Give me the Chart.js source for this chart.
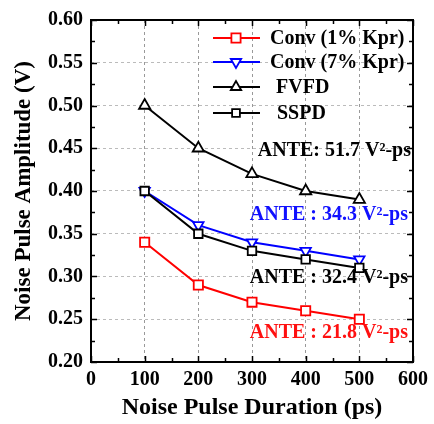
<!DOCTYPE html>
<html>
<head>
<meta charset="utf-8">
<script src="https://cdn.jsdelivr.net/npm/chart.js@4.4.0/dist/chart.umd.min.js"></script>
<style>
  html, body { margin: 0; padding: 0; background: #fff; }
</style>
</head>
<body>
<canvas id="grafico" width="434" height="424"></canvas>
<script>
// datos
const duraciones = [100, 200, 300, 400, 500];
const conv1 = [0.34, 0.29, 0.27, 0.26, 0.25];
const conv7 = [0.40, 0.36, 0.34, 0.33, 0.32];
const fvfd = [0.50, 0.45, 0.42, 0.40, 0.39];
const sspd = [0.40, 0.35, 0.33, 0.32, 0.31];
const etiquetas = ['Conv (1% Kpr)', 'Conv (7% Kpr)', 'FVFD', 'SSPD'];
const textosAnte = ['ANTE: 51.7 V²-ps', 'ANTE : 34.3 V²-ps', 'ANTE : 32.4 V²-ps', 'ANTE : 21.8 V²-ps'];

const FUENTE = "'Liberation Serif', 'Times New Roman', serif";

function serie(valores) {
    let puntos = [];
    for (let i = 0; i < duraciones.length; i++) {
        puntos.push({ x: duraciones[i], y: valores[i] });
    }
    return puntos;
}

function marcador(ctx, estilo, x, y, r, color) {
    ctx.save();
    ctx.fillStyle = '#fff';
    ctx.strokeStyle = color;
    ctx.lineWidth = 1.8;
    ctx.beginPath();
    if (estilo === 'rect') {
        const s = r * Math.SQRT1_2;
        ctx.rect(x - s, y - s, 2 * s, 2 * s);
    } else {
        const dir = estilo === 'down' ? -1 : 1;
        const h = r * 1.5;
        ctx.moveTo(x, y - dir * r);
        ctx.lineTo(x - r * 0.866, y + dir * r * 0.5);
        ctx.lineTo(x + r * 0.866, y + dir * r * 0.5);
        ctx.closePath();
    }
    ctx.fill();
    ctx.stroke();
    ctx.restore();
}

// marco, marcas hacia adentro, leyenda y textos ANTE
const extrasPlugin = {
    id: 'extras',
    afterDatasetsDraw(chart) {
        const { ctx, chartArea: a, scales: { x, y } } = chart;
        ctx.save();
        ctx.strokeStyle = '#000';
        ctx.lineWidth = 2;
        ctx.strokeRect(a.left, a.top, a.right - a.left, a.bottom - a.top);

        ctx.lineWidth = 1.5;
        ctx.beginPath();
        for (let i = 0; i <= 12; i++) {
            const px = Math.round(x.getPixelForValue(i * 50)) + 0.5;
            const len = i % 2 === 0 ? 6 : 4;
            ctx.moveTo(px, a.bottom); ctx.lineTo(px, a.bottom - len);
            ctx.moveTo(px, a.top); ctx.lineTo(px, a.top + len);
        }
        for (let i = 0; i <= 16; i++) {
            const py = Math.round(y.getPixelForValue(0.2 + i * 0.025)) + 0.5;
            const len = i % 2 === 0 ? 6 : 4;
            ctx.moveTo(a.left, py); ctx.lineTo(a.left + len, py);
            ctx.moveTo(a.right, py); ctx.lineTo(a.right - len, py);
        }
        ctx.stroke();

        // leyenda
        const filas = [38, 62, 87, 113];
        const textoX = [270, 270, 276, 277];
        const estilos = ['rect', 'down', 'up', 'rect'];
        const radios = [6.5, 6, 6, 5.5];
        ctx.font = 'bold 20px ' + FUENTE;
        ctx.textBaseline = 'middle';
        ctx.textAlign = 'left';
        chart.data.datasets.forEach((ds, i) => {
            const yy = filas[i];
            ctx.strokeStyle = ds.borderColor;
            ctx.lineWidth = 2;
            ctx.beginPath();
            ctx.moveTo(213, yy); ctx.lineTo(260, yy);
            ctx.stroke();
            marcador(ctx, estilos[i], 236, yy, radios[i], ds.borderColor);
            ctx.fillStyle = '#000';
            ctx.fillText(etiquetas[i], textoX[i], yy + 1);
        });

        // textos ANTE
        const colores = ['#000', '#1010ff', '#000', '#ff1010'];
        const posY = [0.447, 0.372, 0.298, 0.234];
        const finX = [411, 408, 408, 408];
        ctx.textAlign = 'right';
        textosAnte.forEach((t, i) => {
            ctx.fillStyle = colores[i];
            ctx.fillText(t, finX[i], y.getPixelForValue(posY[i]));
        });
        ctx.restore();
    }
};

const ctx = document.getElementById('grafico').getContext('2d');
new Chart(ctx, {
    type: 'line',
    data: {
        datasets: [{
            label: etiquetas[0],
            data: serie(conv1),
            borderColor: '#ff0000',
            backgroundColor: '#fff',
            pointStyle: 'rect',
            pointRadius: 6.5,
            order: 1
        }, {
            label: etiquetas[1],
            data: serie(conv7),
            borderColor: '#0000ff',
            backgroundColor: '#fff',
            pointStyle: 'triangle',
            pointRotation: 180,
            pointRadius: 6,
            order: 3
        }, {
            label: etiquetas[2],
            data: serie(fvfd),
            borderColor: '#000',
            backgroundColor: '#fff',
            pointStyle: 'triangle',
            pointRadius: 6.5,
            order: 2
        }, {
            label: etiquetas[3],
            data: serie(sspd),
            borderColor: '#000',
            backgroundColor: '#fff',
            pointStyle: 'rect',
            pointRadius: 6,
            order: 0
        }]
    },
    options: {
        responsive: false,
        animation: false,
        devicePixelRatio: 1,
        layout: { padding: { top: 16, right: 16, left: 0, bottom: 0 } },
        elements: {
            line: { borderWidth: 2, tension: 0, fill: false },
            point: { borderWidth: 1.8, hoverRadius: 6 }
        },
        plugins: {
            legend: { display: false },
            tooltip: { enabled: false }
        },
        scales: {
            x: {
                type: 'linear',
                min: 0,
                max: 600,
                afterFit: s => { s.height = 62; },
                ticks: { stepSize: 100, color: '#000', padding: 6, font: { family: FUENTE, size: 20, weight: 'bold' } },
                grid: {
                    drawTicks: false,
                    color: c => (c.tick && (c.tick.value === 0 || c.tick.value === 600)) ? 'rgba(0,0,0,0)' : '#999',
                    lineWidth: 1
                },
                border: { display: false, dash: [3, 3] },
                title: {
                    display: true,
                    text: 'Noise Pulse Duration (ps)',
                    color: '#000',
                    font: { family: FUENTE, size: 24, weight: 'bold' },
                    padding: { top: 0, bottom: 2 }
                }
            },
            y: {
                min: 0.2,
                max: 0.6,
                afterFit: s => { s.width = 91; },
                ticks: {
                    stepSize: 0.05,
                    color: '#000',
                    padding: 8,
                    font: { family: FUENTE, size: 20, weight: 'bold' },
                    callback: v => v.toFixed(2)
                },
                grid: {
                    drawTicks: false,
                    color: c => (c.tick && (Math.abs(c.tick.value - 0.2) < 1e-6 || Math.abs(c.tick.value - 0.6) < 1e-6)) ? 'rgba(0,0,0,0)' : '#bbb',
                    lineWidth: 1
                },
                border: { display: false, dash: [3, 3] },
                title: {
                    display: true,
                    text: 'Noise Pulse Amplitude (V)',
                    color: '#000',
                    font: { family: FUENTE, size: 23, weight: 'bold' },
                    padding: { top: 10, bottom: 0 }
                }
            }
        }
    },
    plugins: [extrasPlugin]
});
</script>
</body>
</html>
